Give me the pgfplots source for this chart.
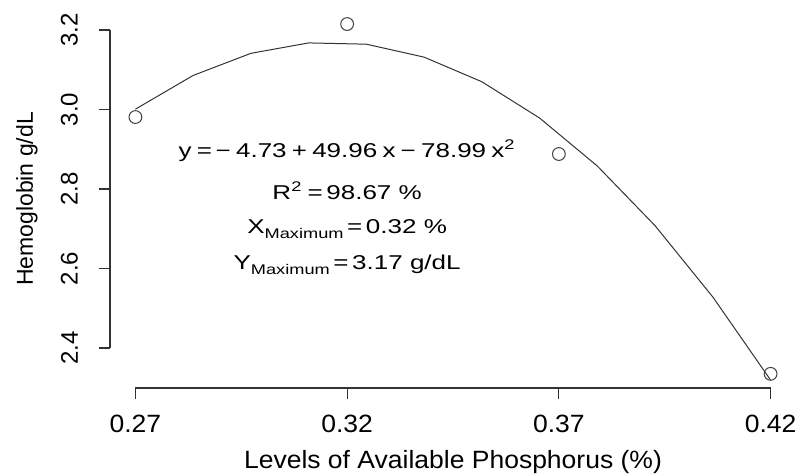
\documentclass[border=0pt]{standalone}
\usepackage{fontspec}
\setmainfont{Liberation Sans}[FakeStretch=1.06]
\newfontfamily\annfont{Liberation Sans}[FakeStretch=1.3]
\newfontfamily\rotfont{Liberation Sans}
\usepackage{pgfplots}
\usepackage{pgfplotstable}
\pgfplotsset{compat=1.18}

% observed means
\pgfplotstableread{
x y
0.27 2.981
0.32 3.215
0.37 2.888
0.42 2.335
}\obsdata

% fitted quadratic, as drawn (12 points)
\pgfplotstableread{
x y
0.270000 3.0008
0.283636 3.0857
0.297273 3.1413
0.310909 3.1675
0.324545 3.1643
0.338182 3.1317
0.351818 3.0698
0.365455 2.9785
0.379091 2.8577
0.392727 2.7076
0.406364 2.5282
0.420000 2.3194
}\fitdata

\newcommand{\subtxt}[1]{\raisebox{-2.5pt}{\fontsize{7}{8}\selectfont #1}}
\newcommand{\gap}{\hspace{0.18em}}
\newcommand{\wgap}{\hspace{0.26em}}

\begin{document}
\begin{tikzpicture}
\begin{axis}[
  scale only axis, width=343pt, height=189pt,
  xmin=0.264, xmax=0.426, ymin=2.2994, ymax=3.2503,
  axis x line*=bottom, axis y line*=left,
  axis line style={draw=none},
  clip=false,
  tick align=outside, major tick length=5.5pt,
  every tick/.style={black!80, line width=0.6pt},
  xtick={0.27,0.32,0.37,0.42}, ytick={2.4,2.6,2.8,3.0,3.2},
  /pgf/number format/assume math mode=true,
  xticklabel style={font=\fontsize{12.5}{14}\selectfont, yshift=-4.5pt,
    /pgf/number format/fixed, /pgf/number format/fixed zerofill,
    /pgf/number format/precision=2},
  yticklabel shift=7pt,
  yticklabel style={font=\rotfont\fontsize{12}{14}\selectfont, rotate=90, anchor=south,
    /pgf/number format/fixed, /pgf/number format/fixed zerofill,
    /pgf/number format/precision=1},
  xlabel={Levels of Available Phosphorus (\%)},
  xlabel style={font=\fontsize{12.5}{14}\selectfont, at={(axis description cs:0.5,0)}, anchor=base, yshift=-40.15pt},
  ylabel={Hemoglobin g/dL},
  ylabel style={font=\rotfont\fontsize{11.5}{14}\selectfont, at={([xshift=-38.5pt]axis description cs:0,0.5)}, anchor=base},
]
\addplot[black!80, line width=0.5pt] table[x=x, y=y] {\fitdata};
\addplot[only marks, mark=o, mark size=3.2pt, black!75, mark options={line width=0.5pt}] table[x=x, y=y] {\obsdata};

% R-style detached axis lines, from first to last tick
\draw[black!80, line width=0.6pt] (axis cs:0.27,2.2994) -- (axis cs:0.42,2.2994);
\draw[black!80, line width=0.6pt] (axis cs:0.264,2.4) -- (axis cs:0.264,3.2);

\node[font=\annfont\fontsize{10}{12}\selectfont, anchor=base] at (axis cs:0.32,2.8805)
  {y\wgap=\gap−\wgap4.73\wgap+\wgap49.96\wgap x\wgap−\wgap78.99\wgap x\textsuperscript{2}};
\node[font=\annfont\fontsize{10}{12}\selectfont, anchor=base] at (axis cs:0.32,2.7748)
  {R\textsuperscript{2}\wgap=\gap98.67 \%};
\node[font=\annfont\fontsize{10}{12}\selectfont, anchor=base] at (axis cs:0.32,2.6893)
  {X\subtxt{Maximum}\gap=\gap0.32 \%};
\node[font=\annfont\fontsize{10}{12}\selectfont, anchor=base] at (axis cs:0.32,2.5987)
  {Y\subtxt{Maximum}\gap=\gap3.17 g/dL};

\coordinate (sw) at (rel axis cs:0,0);
\coordinate (ne) at (rel axis cs:1,1);
\end{axis}
\pgfresetboundingbox
\path[use as bounding box] ([shift={(-55pt,-42.5pt)}]sw) rectangle ([shift={(1pt,5pt)}]ne);
\end{tikzpicture}
\end{document}
